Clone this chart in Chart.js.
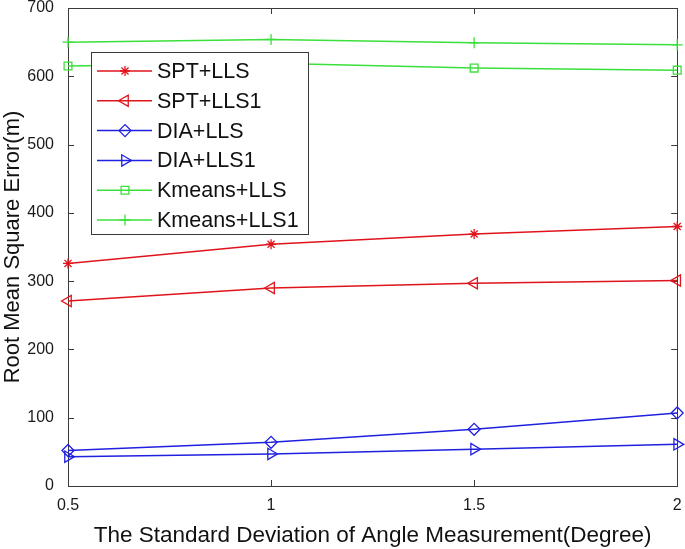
<!DOCTYPE html>
<html><head><meta charset="utf-8">
<script src="https://cdn.jsdelivr.net/npm/chart.js@4.4.0/dist/chart.umd.min.js"></script>
<style>html,body{margin:0;padding:0;background:#fff;}#wrap{width:685px;height:549px;}</style>
</head><body><div id="wrap"><canvas id="c" width="685" height="549"></canvas></div>
<script>
// ---- data ----
const xValues = [0.5, 1, 1.5, 2];
const xTickLabels = ['0.5', '1', '1.5', '2'];
const yTickValues = [0, 100, 200, 300, 400, 500, 600, 700];
const seriesNames = ['SPT+LLS', 'SPT+LLS1', 'DIA+LLS', 'DIA+LLS1', 'Kmeans+LLS', 'Kmeans+LLS1'];
const sptLls = [326, 354, 369, 380];
const sptLls1 = [271, 290, 297, 301];
const diaLls = [52, 64, 83, 107];
const diaLls1 = [43, 47, 54, 61];
const kmeansLls = [615, 619, 612, 609];
const kmeansLls1 = [650, 654, 649, 646];
const xTitle = 'The Standard Deviation of Angle Measurement(Degree)';
const yTitle = 'Root Mean Square Error(m)';

// ---- styles ----
const RED = '#e0141c', BLUE = '#2020e0', GREEN = '#3ce03c';
const seriesValues = [sptLls, sptLls1, diaLls, diaLls1, kmeansLls, kmeansLls1];
const seriesColors = [RED, RED, BLUE, BLUE, GREEN, GREEN];
const seriesMarkers = ['star', 'triangle', 'rectRot', 'triangle', 'rect', 'cross'];
const seriesRotation = [0, -90, 0, 90, 0, 0];
const seriesRadius = [5, 6.5, 6, 6.5, 5.5, 5.5];
const FONT = '"Liberation Sans", Arial, Helvetica, sans-serif';

const datasets = seriesNames.map((name, i) => ({
  label: name,
  data: xValues.map((x, j) => ({ x: x, y: seriesValues[i][j] })),
  borderColor: seriesColors[i],
  backgroundColor: 'rgba(0,0,0,0)',
  pointBorderColor: seriesColors[i],
  pointBackgroundColor: 'rgba(0,0,0,0)',
  pointStyle: seriesMarkers[i],
  pointRotation: seriesRotation[i],
  pointRadius: seriesRadius[i],
  pointBorderWidth: 1.3,
  borderWidth: 1.5,
  tension: 0,
  clip: false
}));

function ownDrawPoint(ctx, style, r, rot, x, y) {
  if (Chart.helpers && Chart.helpers.drawPoint) {
    Chart.helpers.drawPoint(ctx, { pointStyle: style, radius: r, rotation: rot, borderWidth: 1.3 }, x, y);
  }
}

const framePlugin = {
  id: 'frame',
  beforeDatasetsDraw(chart) {
    const { ctx, chartArea: a, scales } = chart;
    ctx.save();
    ctx.strokeStyle = '#3a3a3a';
    ctx.lineWidth = 1;
    ctx.strokeRect(Math.round(a.left) + 0.5, Math.round(a.top) + 0.5, Math.round(a.right - a.left), Math.round(a.bottom - a.top));
    const tl = 6;
    ctx.beginPath();
    xValues.forEach(v => {
      const px = Math.round(scales.x.getPixelForValue(v)) + 0.5;
      ctx.moveTo(px, a.bottom); ctx.lineTo(px, a.bottom - tl);
      ctx.moveTo(px, a.top); ctx.lineTo(px, a.top + tl);
    });
    yTickValues.forEach(v => {
      const py = Math.round(scales.y.getPixelForValue(v)) + 0.5;
      ctx.moveTo(a.left, py); ctx.lineTo(a.left + tl, py);
      ctx.moveTo(a.right, py); ctx.lineTo(a.right - tl, py);
    });
    ctx.stroke();
    ctx.restore();
  },
  afterDatasetsDraw(chart) {
    const { ctx } = chart;
    const x0 = 91, y0 = 52, x1 = 308, y1 = 234;
    ctx.save();
    ctx.fillStyle = '#ffffff';
    ctx.fillRect(x0, y0, x1 - x0, y1 - y0);
    ctx.strokeStyle = '#3a3a3a';
    ctx.lineWidth = 1;
    ctx.strokeRect(x0 + 0.5, y0 + 0.5, x1 - x0, y1 - y0);
    const rowH = 29.8, firstY = 71;
    chart.data.datasets.forEach((ds, i) => {
      const y = firstY + i * rowH;
      ctx.strokeStyle = ds.borderColor;
      ctx.lineWidth = 1.5;
      ctx.beginPath();
      ctx.moveTo(97, y); ctx.lineTo(152, y);
      ctx.stroke();
      ctx.fillStyle = 'rgba(0,0,0,0)';
      ctx.lineWidth = 1.3;
      ownDrawPoint(ctx, ds.pointStyle, ds.pointRadius, ds.pointRotation, 125, y);
      ctx.fillStyle = '#111';
      ctx.font = '21.5px ' + FONT;
      ctx.textBaseline = 'middle';
      ctx.textAlign = 'left';
      ctx.fillText(ds.label, 157, y + 1);
    });
    ctx.restore();
  }
};

new Chart(document.getElementById('c'), {
  type: 'line',
  data: { datasets: datasets },
  options: {
    responsive: false,
    animation: false,
    devicePixelRatio: 1,
    layout: { padding: { top: 8, right: 7, left: 0, bottom: 0 } },
    plugins: { legend: { display: false }, tooltip: { enabled: false } },
    scales: {
      x: {
        type: 'linear', min: 0.5, max: 2,
        afterBuildTicks: s => { s.ticks = xValues.map(v => ({ value: v })); },
        ticks: {
          callback: (v, i) => xTickLabels[i],
          font: { family: FONT, size: 16 }, color: '#1a1a1a',
          padding: 10, maxRotation: 0, autoSkip: false
        },
        grid: { display: false, drawTicks: false },
        border: { display: false },
        title: { display: true, text: xTitle, font: { family: FONT, size: 22.5 }, color: '#111', padding: { top: 0, bottom: 0 } },
        afterFit: s => { s.height = 63; s.paddingLeft = 0; s.paddingRight = 0; }
      },
      y: {
        type: 'linear', min: 0, max: 700,
        afterBuildTicks: s => { s.ticks = yTickValues.map(v => ({ value: v })); },
        ticks: {
          callback: (v) => String(v),
          font: { family: FONT, size: 16 }, color: '#1a1a1a',
          padding: 14, autoSkip: false
        },
        grid: { display: false, drawTicks: false },
        border: { display: false },
        title: { display: true, text: yTitle, font: { family: FONT, size: 22 }, color: '#111', padding: { top: 0, bottom: 0 } },
        afterFit: s => { s.width = 68; s.paddingTop = 0; s.paddingBottom = 0; }
      }
    }
  },
  plugins: [framePlugin]
});
</script>
</body></html>
